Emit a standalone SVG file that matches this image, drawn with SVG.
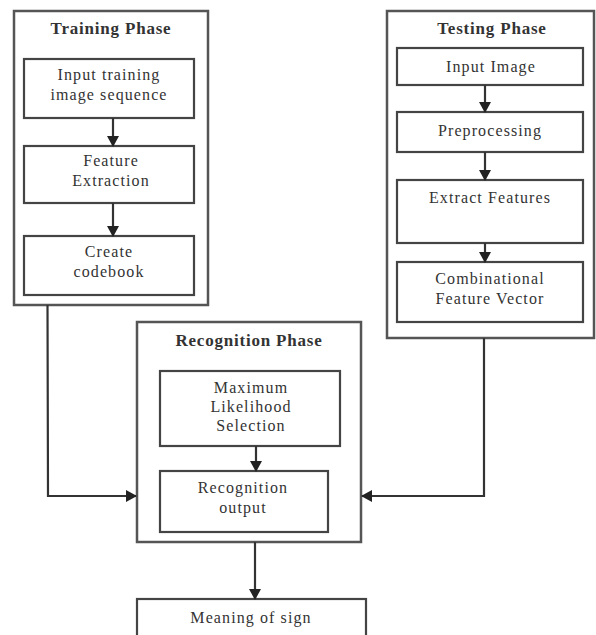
<svg xmlns="http://www.w3.org/2000/svg" width="596" height="635" viewBox="0 0 596 635">
<defs>
<style>
.outer{fill:#fff;stroke:#555;stroke-width:2.5}
.box{fill:#fff;stroke:#444;stroke-width:2.2}
.t{font-family:"Liberation Serif","Times New Roman",serif;font-size:16px;letter-spacing:1.1px;fill:#333;text-anchor:middle}
.h{font-weight:bold;font-size:17px;letter-spacing:0.8px}
.c{fill:none;stroke:#333;stroke-width:2.2}
</style>
<marker id="ah" markerWidth="11" markerHeight="12" refX="10" refY="6" orient="auto" markerUnits="userSpaceOnUse">
<path d="M0,0 L11,6 L0,12 Z" fill="#222"/>
</marker>
</defs>
<rect width="596" height="635" fill="#fff"/>
<g id="training">
<rect class="outer" x="14" y="11" width="194" height="294"/>
<text class="t h" x="111" y="34">Training Phase</text>
</g>
<g id="input-training">
<rect class="box" x="24" y="59" width="170" height="59"/>
<text class="t" x="109" y="80">Input training</text>
<text class="t" x="109" y="100">image sequence</text>
</g>
<g id="feature-extraction">
<rect class="box" x="24" y="146" width="170" height="57"/>
<text class="t" x="111" y="166">Feature</text>
<text class="t" x="111" y="186">Extraction</text>
</g>
<g id="create-codebook">
<rect class="box" x="24" y="236" width="170" height="59"/>
<text class="t" x="109" y="257">Create</text>
<text class="t" x="109" y="277">codebook</text>
</g>
<g id="testing">
<rect class="outer" x="387" y="11" width="207" height="327"/>
<text class="t h" x="492" y="34">Testing Phase</text>
</g>
<g id="input-image">
<rect class="box" x="397" y="48" width="186" height="37"/>
<text class="t" x="491" y="72">Input Image</text>
</g>
<g id="preprocessing">
<rect class="box" x="397" y="112" width="186" height="40"/>
<text class="t" x="490" y="136">Preprocessing</text>
</g>
<g id="extract-features">
<rect class="box" x="397" y="180" width="186" height="63"/>
<text class="t" x="490" y="203">Extract Features</text>
</g>
<g id="combinational">
<rect class="box" x="397" y="262" width="186" height="60"/>
<text class="t" x="490" y="284">Combinational</text>
<text class="t" x="490" y="304">Feature Vector</text>
</g>
<g id="recognition">
<rect class="outer" x="137" y="322" width="224" height="220"/>
<text class="t h" x="249" y="346">Recognition Phase</text>
</g>
<g id="max-likelihood">
<rect class="box" x="160" y="371" width="180" height="75"/>
<text class="t" x="251" y="393">Maximum</text>
<text class="t" x="251" y="412">Likelihood</text>
<text class="t" x="251" y="431">Selection</text>
</g>
<g id="recognition-output">
<rect class="box" x="160" y="471" width="168" height="61"/>
<text class="t" x="243" y="493">Recognition</text>
<text class="t" x="243" y="513">output</text>
</g>
<g id="meaning">
<rect class="box" x="137" y="599" width="229" height="50"/>
<text class="t" x="251" y="623">Meaning of sign</text>
</g>
<g id="connectors">
<line class="c" x1="113" y1="118" x2="113" y2="146" marker-end="url(#ah)"/>
<line class="c" x1="113" y1="203" x2="113" y2="236" marker-end="url(#ah)"/>
<line class="c" x1="485" y1="85" x2="485" y2="112" marker-end="url(#ah)"/>
<line class="c" x1="485" y1="152" x2="485" y2="180" marker-end="url(#ah)"/>
<line class="c" x1="485" y1="243" x2="485" y2="262" marker-end="url(#ah)"/>
<line class="c" x1="256" y1="446" x2="256" y2="471" marker-end="url(#ah)"/>
<polyline class="c" points="47.5,305 48,496 136,496" marker-end="url(#ah)"/>
<polyline class="c" points="484,338 484,496 362,496" marker-end="url(#ah)"/>
<line class="c" x1="255" y1="542" x2="255" y2="599" marker-end="url(#ah)"/>
</g>
</svg>
